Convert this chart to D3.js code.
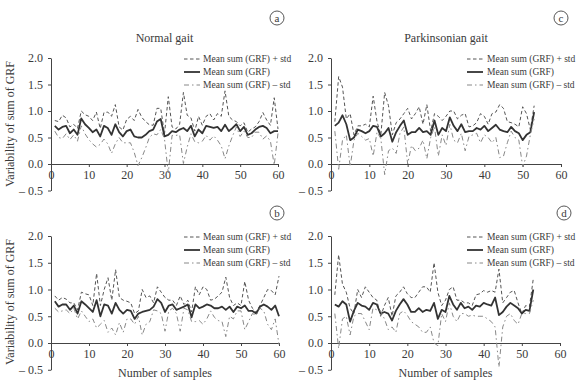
<!DOCTYPE html>
<html><head><meta charset="utf-8">
<script src="https://cdn.jsdelivr.net/npm/d3@7"></script>
<style>
body{margin:0;background:#fff;}
svg{display:block;font-family:"Liberation Serif","Times New Roman",serif;}
</style></head>
<body><svg id="c" width="580" height="381"></svg>
<script>
// ---- data ----
const xTicks = [0,10,20,30,40,50,60];
const yTicks = [-0.5,0,0.5,1,1.5,2];
const legendLabels = ["Mean sum (GRF) + std","Mean sum (GRF)","Mean sum (GRF) \u2013 std"];
const panelTitles = ["Normal gait","Parkinsonian gait"];
const panelLetters = ["a","c","b","d"];

const normalAMean = [0.72,0.65,0.70,0.72,0.58,0.65,0.55,0.86,0.75,0.68,0.60,0.65,0.52,0.72,0.68,0.55,0.75,0.60,0.52,0.62,0.65,0.52,0.50,0.50,0.55,0.62,0.65,0.80,0.85,0.52,0.55,0.62,0.60,0.65,0.68,0.62,0.72,0.52,0.65,0.58,0.72,0.70,0.68,0.70,0.62,0.74,0.62,0.68,0.75,0.62,0.70,0.55,0.58,0.65,0.70,0.72,0.68,0.58,0.62,0.62];
const normalAPlus = [0.82,0.80,0.92,0.87,0.70,0.75,0.67,1.00,0.93,0.90,0.82,0.98,0.67,0.97,0.98,0.90,1.12,0.70,0.64,0.84,0.90,0.82,1.03,0.88,0.80,0.74,0.73,1.05,1.05,0.57,1.27,0.70,0.66,0.75,1.35,0.92,0.87,0.62,0.90,0.73,0.90,0.95,0.83,0.95,0.90,1.38,0.90,0.83,0.80,0.72,0.78,0.60,0.66,0.70,0.80,0.97,0.83,0.73,1.25,0.66];
const normalAMinus = [0.62,0.50,0.48,0.57,0.46,0.55,0.43,0.72,0.57,0.46,0.38,0.32,0.37,0.47,0.38,0.20,0.38,0.50,0.40,0.40,0.40,0.22,-0.03,0.12,0.30,0.50,0.57,0.55,0.65,0.47,-0.17,0.54,0.54,0.55,0.01,0.32,0.57,0.42,0.40,0.43,0.54,0.45,0.53,0.45,0.34,0.10,0.34,0.53,0.70,0.52,0.62,0.50,0.50,0.60,0.60,0.47,0.53,0.43,-0.02,0.58];

const parkCMean = [0.72,0.78,0.92,0.75,0.45,0.50,0.65,0.62,0.58,0.62,0.72,0.70,0.52,0.58,0.68,0.42,0.60,0.72,0.82,0.55,0.60,0.60,0.68,0.60,0.62,0.55,0.82,0.55,0.68,0.62,0.88,0.72,0.62,0.75,0.60,0.62,0.62,0.68,0.65,0.72,0.62,0.68,0.74,0.65,0.62,0.60,0.70,0.62,0.58,0.45,0.55,0.60,0.98];
const parkCPlus = [0.80,1.65,1.45,0.85,0.95,0.55,0.72,0.72,0.75,0.70,1.28,0.80,0.55,1.35,1.10,0.55,0.78,0.85,0.95,1.05,0.85,0.95,1.08,0.75,1.12,0.62,0.95,0.90,0.82,0.90,1.00,1.00,0.85,0.92,0.95,0.70,0.72,0.78,0.95,0.90,0.75,0.95,0.98,1.12,1.05,0.80,0.78,0.75,0.70,1.08,0.95,0.65,1.10];
const parkCMinus = [0.62,-0.10,0.45,0.55,-0.05,0.45,0.58,0.52,0.45,0.48,0.15,0.60,0.48,-0.20,0.25,0.30,0.20,0.58,0.70,0.00,0.35,0.25,0.30,0.45,0.10,0.50,0.70,0.15,0.55,0.35,0.75,0.45,0.40,0.58,0.25,0.52,0.55,0.58,0.40,0.55,0.50,0.40,0.50,0.12,0.15,0.40,0.62,0.50,0.45,-0.05,0.15,0.55,0.85];

const normalBMean = [0.78,0.68,0.72,0.72,0.62,0.70,0.55,0.78,0.72,0.65,0.58,0.80,0.50,0.72,0.70,0.55,0.75,0.62,0.55,0.62,0.60,0.45,0.55,0.58,0.60,0.62,0.68,0.82,0.75,0.58,0.70,0.72,0.62,0.65,0.68,0.72,0.48,0.72,0.65,0.68,0.72,0.70,0.65,0.65,0.68,0.62,0.68,0.58,0.68,0.65,0.70,0.60,0.60,0.55,0.68,0.72,0.68,0.62,0.70,0.50];
const normalBPlus = [0.88,0.80,0.85,0.82,0.75,0.75,0.62,0.95,0.92,0.90,0.70,1.30,0.70,1.00,1.22,0.80,1.37,0.85,0.80,0.78,0.75,0.55,0.60,1.00,0.85,0.88,0.75,1.05,0.95,0.85,0.80,0.80,0.70,0.88,0.72,0.80,0.58,1.05,0.90,1.05,1.00,0.80,0.82,0.88,0.95,1.23,0.85,0.70,0.75,0.70,1.15,0.80,0.65,0.58,0.70,0.85,1.00,0.98,0.90,1.25];
const normalBMinus = [0.65,0.58,0.60,0.62,0.55,0.65,0.45,0.60,0.50,0.40,0.45,0.28,0.35,0.42,0.20,0.28,0.15,0.38,0.20,0.45,0.45,0.35,0.50,0.15,0.35,0.40,0.62,0.60,0.55,0.22,0.60,0.65,0.55,0.22,0.65,0.62,0.40,0.40,0.42,0.35,0.45,0.60,0.48,0.42,0.40,0.12,0.50,0.45,0.60,0.60,0.25,0.40,0.55,0.52,0.65,0.60,0.35,0.25,0.45,-0.03];

const parkDMean = [0.72,0.68,0.78,0.72,0.40,0.60,0.75,0.70,0.68,0.62,0.75,0.72,0.55,0.58,0.55,0.42,0.60,0.72,0.82,0.72,0.58,0.58,0.65,0.58,0.62,0.60,0.75,0.45,0.62,0.58,0.88,0.72,0.62,0.75,0.65,0.68,0.62,0.70,0.68,0.75,0.72,0.70,0.85,0.52,0.58,0.68,0.75,0.70,0.65,0.55,0.62,0.60,1.00];
const parkDPlus = [0.90,1.65,1.10,0.95,0.65,0.55,1.00,0.85,1.05,0.95,0.85,0.80,0.50,0.70,0.85,0.50,0.88,0.95,1.05,0.92,0.85,0.85,0.95,1.05,1.05,0.95,1.50,0.95,0.70,0.80,1.00,1.05,0.80,0.80,0.75,0.75,0.70,0.90,0.92,0.98,0.95,0.98,0.95,1.38,0.75,0.85,0.95,0.98,0.75,0.55,0.70,0.68,1.20];
const parkDMinus = [0.55,-0.10,0.45,0.50,0.15,0.50,0.55,0.55,0.40,0.25,0.65,0.62,0.60,0.45,0.25,0.30,0.20,0.55,0.60,0.52,0.40,0.35,0.30,0.20,0.20,0.30,0.00,-0.05,0.55,0.40,0.75,0.50,0.40,0.55,0.55,0.50,0.52,0.50,0.50,0.50,0.45,0.40,0.30,-0.45,0.30,0.50,0.55,0.42,0.35,0.55,0.55,0.55,0.80];

// ---- drawing ----
const svg = d3.select("#c");
const panels = [
  {mean:normalAMean, plus:normalAPlus, minus:normalAMinus, x0:51, x1:278, yTop:58, yZero:164, title:panelTitles[0], letter:panelLetters[0], lx:[184,200,203], ly:[59,72,85], cx:277, cy:18, ylabel:true, xlabel:false},
  {mean:parkCMean, plus:parkCPlus, minus:parkCMinus, x0:331, x1:561, yTop:58, yZero:164, title:panelTitles[1], letter:panelLetters[1], lx:[467,483,487], ly:[59,72,85], cx:561, cy:18, ylabel:false, xlabel:false},
  {mean:normalBMean, plus:normalBPlus, minus:normalBMinus, x0:51, x1:279, yTop:236, yZero:343, title:null, letter:panelLetters[2], lx:[184,200,203], ly:[237,250,263], cx:277, cy:213, ylabel:true, xlabel:true},
  {mean:parkDMean, plus:parkDPlus, minus:parkDMinus, x0:331, x1:560, yTop:236, yZero:343, title:null, letter:panelLetters[3], lx:[467,483,487], ly:[237,250,263], cx:564, cy:213, ylabel:false, xlabel:true}
];

const textCol = "#3a3a3a";
const styles = [
  {stroke:"#555", width:1, dash:"3.5,2.5"},
  {stroke:"#333", width:1.8, dash:null},
  {stroke:"#888", width:1, dash:"5,3,1.5,3"}
];

panels.forEach(p => {
  const x = d3.scaleLinear().domain([0,60]).range([p.x0,p.x1]);
  const yPer = (p.yZero - p.yTop) / 2;
  const y = d3.scaleLinear().domain([-0.5,2]).range([p.yZero + yPer*0.5, p.yTop]);
  const g = svg.append("g");

  const ya = g.append("g").attr("transform",`translate(${p.x0},0)`)
    .call(d3.axisLeft(y).tickValues(yTicks).tickSize(3).tickSizeOuter(0).tickPadding(5)
      .tickFormat(d => d < 0 ? "\u2013 0.5" : d.toFixed(1)));
  const xa = g.append("g").attr("transform",`translate(0,${y(0)})`)
    .call(d3.axisBottom(x).tickValues(xTicks).tickSize(3).tickSizeOuter(0).tickPadding(3));
  [ya,xa].forEach(a => {
    a.selectAll("path,line").attr("stroke","#444");
    a.selectAll("text").attr("fill",textCol).style("font-size","12px").style("font-family","Liberation Serif");
  });

  const series = [p.plus, p.mean, p.minus];
  series.forEach((s,i) => {
    const line = d3.line().x((d,j)=>x(j+1)).y(d=>y(d));
    g.append("path").datum(s).attr("d",line).attr("fill","none")
      .attr("stroke",styles[i].stroke).attr("stroke-width",styles[i].width)
      .attr("stroke-dasharray",styles[i].dash).attr("stroke-linejoin","round");
  });

  legendLabels.forEach((t,i) => {
    g.append("line").attr("x1",p.lx[0]).attr("x2",p.lx[1]).attr("y1",p.ly[i]).attr("y2",p.ly[i])
      .attr("stroke",styles[i].stroke).attr("stroke-width",styles[i].width).attr("stroke-dasharray",styles[i].dash);
    g.append("text").attr("x",p.lx[2]).attr("y",p.ly[i]).attr("dy","0.35em")
      .attr("fill",textCol).style("font-size","9.5px").text(t);
  });

  if (p.title) {
    g.append("text").attr("x",(p.x0+p.x1)/2).attr("y",42).attr("text-anchor","middle")
      .attr("fill",textCol).style("font-size","12px").text(p.title);
  }
  g.append("circle").attr("cx",p.cx).attr("cy",p.cy).attr("r",7).attr("fill","none").attr("stroke","#444").attr("stroke-width",0.9);
  g.append("text").attr("x",p.cx).attr("y",p.cy).attr("dy","0.33em").attr("text-anchor","middle")
    .attr("fill",textCol).style("font-size","11px").text(p.letter);

  if (p.ylabel) {
    const cy = p.yTop + 66;
    g.append("text").attr("transform",`translate(14,${cy}) rotate(-90)`).attr("text-anchor","middle")
      .attr("fill",textCol).style("font-size","12px").text("Variability of sum of GRF");
  }
  if (p.xlabel) {
    g.append("text").attr("x",(p.x0+p.x1)/2).attr("y",377).attr("text-anchor","middle")
      .attr("fill",textCol).style("font-size","12px").text("Number of samples");
  }
});
</script></body></html>
